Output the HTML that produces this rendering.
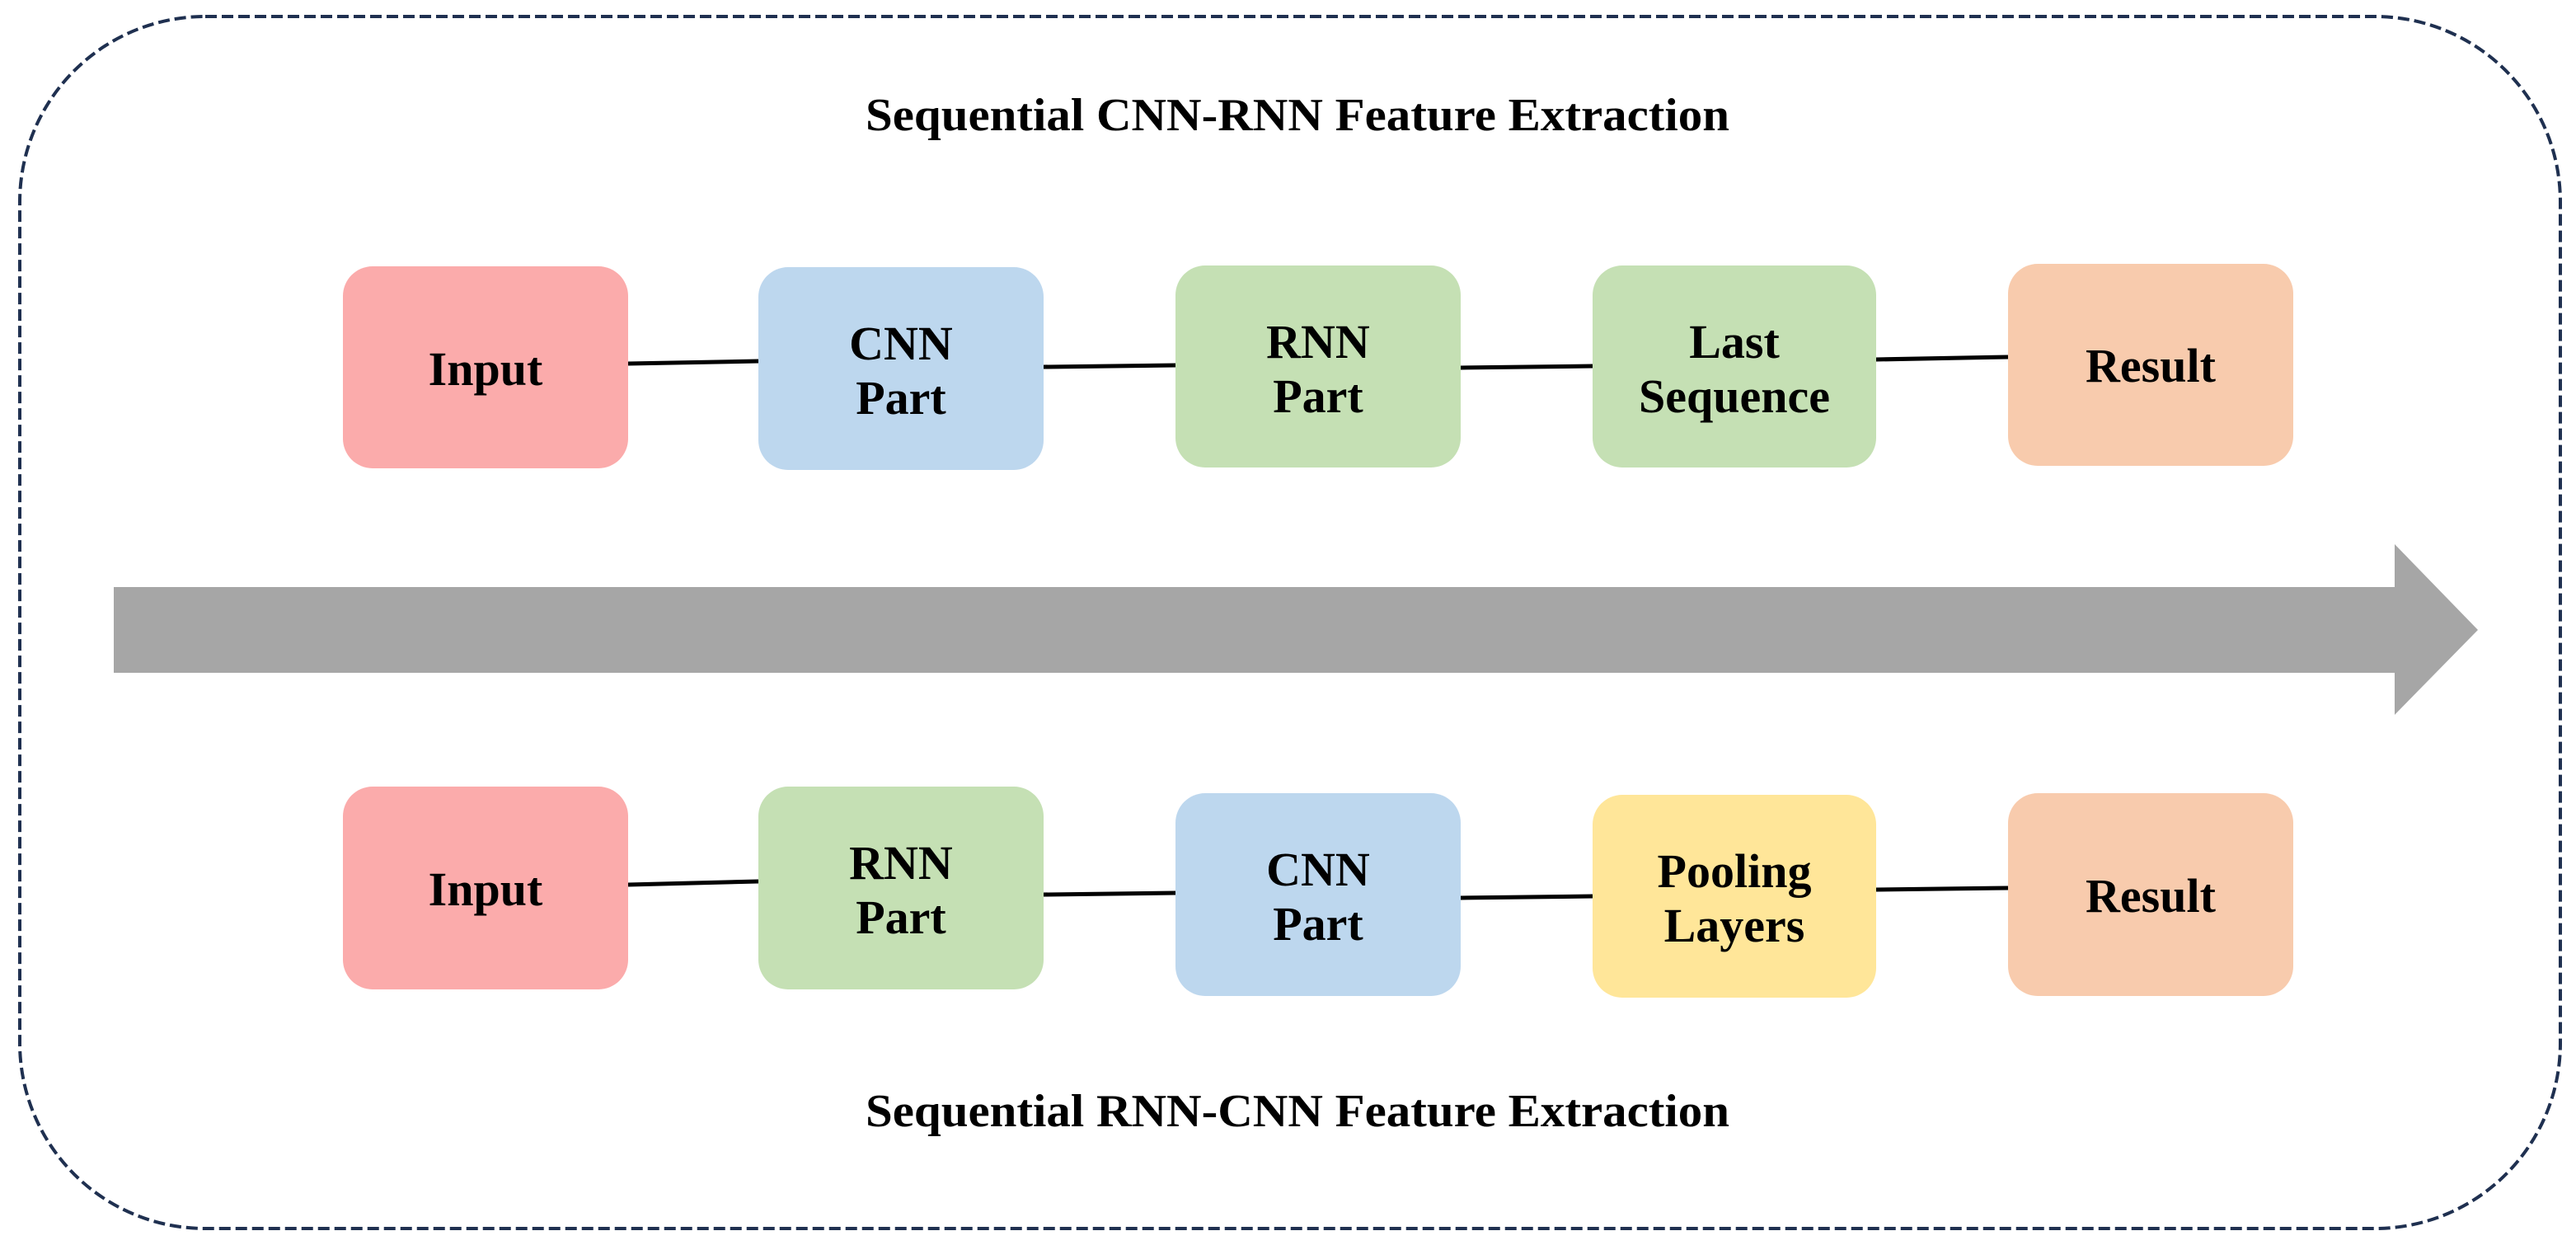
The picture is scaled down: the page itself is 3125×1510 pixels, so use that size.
<!DOCTYPE html>
<html><head><meta charset="utf-8"><style>html,body{margin:0;padding:0;background:#fff}svg{display:block}</style></head>
<body>
<svg width="3125" height="1510" viewBox="0 0 3125 1510" xmlns="http://www.w3.org/2000/svg" font-family="Liberation Serif, serif" font-weight="bold">
<rect x="24" y="20" width="3082" height="1470" rx="225" ry="225" fill="none" stroke="#1f3050" stroke-width="4" stroke-dasharray="14 6"/>
<text x="1574" y="158" font-size="56" text-anchor="middle" textLength="1048" lengthAdjust="spacingAndGlyphs">Sequential CNN-RNN Feature Extraction</text>
<text x="1574" y="1366" font-size="56" text-anchor="middle" textLength="1048" lengthAdjust="spacingAndGlyphs">Sequential RNN-CNN Feature Extraction</text>
<polygon points="138,712 2905,712 2905,660 3006,764 2905,867 2905,816 138,816" fill="#a6a6a6"/>
<g transform="translate(-4,0)">
<g stroke="#000" stroke-width="5">
<line x1="766" y1="441" x2="924" y2="438"/>
<line x1="1270" y1="445" x2="1430" y2="443"/>
<line x1="1776" y1="446" x2="1936" y2="444"/>
<line x1="2280" y1="436" x2="2440" y2="433"/>
<line x1="766" y1="1073" x2="924" y2="1069"/>
<line x1="1270" y1="1085" x2="1430" y2="1083"/>
<line x1="1776" y1="1089" x2="1936" y2="1087"/>
<line x1="2280" y1="1079" x2="2440" y2="1077"/>
</g>
<g>
<rect x="420" y="323" width="346" height="245" rx="36" fill="#fbabab"/>
<rect x="924" y="324" width="346" height="246" rx="36" fill="#bdd7ee"/>
<rect x="1430" y="322" width="346" height="245" rx="36" fill="#c5e0b4"/>
<rect x="1936" y="322" width="344" height="245" rx="36" fill="#c5e0b4"/>
<rect x="2440" y="320" width="346" height="245" rx="36" fill="#f8cbad"/>
<rect x="420" y="954" width="346" height="246" rx="36" fill="#fbabab"/>
<rect x="924" y="954" width="346" height="246" rx="36" fill="#c5e0b4"/>
<rect x="1430" y="962" width="346" height="246" rx="36" fill="#bdd7ee"/>
<rect x="1936" y="964" width="344" height="246" rx="36" fill="#ffe699"/>
<rect x="2440" y="962" width="346" height="246" rx="36" fill="#f8cbad"/>
</g>
<g font-size="58" text-anchor="middle">
<text x="593" y="467">Input</text>
<text x="1097" y="436">CNN</text><text x="1097" y="502">Part</text>
<text x="1603" y="434">RNN</text><text x="1603" y="500">Part</text>
<text x="2108" y="434">Last</text><text x="2108" y="500">Sequence</text>
<text x="2613" y="463">Result</text>
<text x="593" y="1098">Input</text>
<text x="1097" y="1066">RNN</text><text x="1097" y="1132">Part</text>
<text x="1603" y="1074">CNN</text><text x="1603" y="1140">Part</text>
<text x="2108" y="1076">Pooling</text><text x="2108" y="1142">Layers</text>
<text x="2613" y="1106">Result</text>
</g>
</g>
</svg>
</body></html>
